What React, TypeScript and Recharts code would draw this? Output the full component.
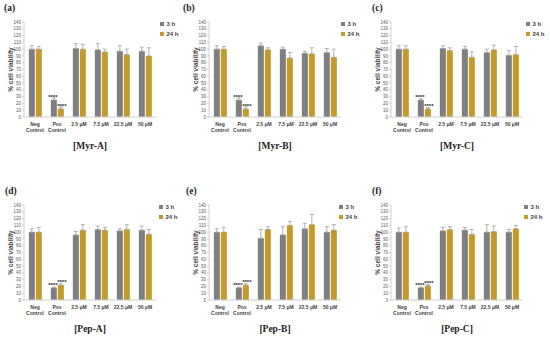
import React from "react";
import { BarChart, Bar, XAxis, YAxis, ErrorBar, LabelList } from "recharts";

const categories = ["Neg Control", "Pos Control", "2.5 μM", "7.5 μM", "22.5 μM", "50 μM"];
const yTicks = [0, 10, 20, 30, 40, 50, 60, 70, 80, 90, 100, 110, 120, 130, 140];

// [Myr-A]
const myrA3h = [100, 25, 101, 99, 97, 97];
const myrA3hErr = [5, 3, 7, 9, 8, 6];
const myrA24h = [100, 12, 100, 96, 92, 90];
const myrA24hErr = [4, 3, 7, 4, 8, 12];
// [Myr-B]
const myrB3h = [100, 25, 105, 100, 94, 95];
const myrB3hErr = [5, 3, 4, 3, 3, 6];
const myrB24h = [100, 12, 99, 87, 93, 88];
const myrB24hErr = [4, 3, 3, 8, 9, 12];
// [Myr-C]
const myrC3h = [100, 25, 101, 100, 95, 91];
const myrC3hErr = [5, 2, 4, 4, 5, 7];
const myrC24h = [100, 12, 98, 88, 99, 92];
const myrC24hErr = [5, 2, 4, 8, 7, 12];
// [Pep-A]
const pepA3h = [100, 18, 96, 104, 102, 103];
const pepA3hErr = [5, 1, 5, 5, 3, 6];
const pepA24h = [100, 22, 103, 103, 104, 97];
const pepA24hErr = [7, 2, 8, 4, 7, 7];
// [Pep-B]
const pepB3h = [100, 18, 91, 96, 105, 100];
const pepB3hErr = [5, 1, 13, 12, 8, 8];
const pepB24h = [100, 22, 104, 110, 111, 103];
const pepB24hErr = [7, 2, 4, 6, 15, 8];
// [Pep-C]
const pepC3h = [100, 18, 102, 103, 100, 100];
const pepC3hErr = [6, 1, 5, 4, 11, 4];
const pepC24h = [100, 21, 104, 97, 101, 105];
const pepC24hErr = [8, 2, 4, 7, 8, 5];

const GRAY = "#7f7f7f";
const GOLD = "#c49a2b";
const SANS = "'Liberation Sans', Arial, sans-serif";
const SERIF = "'Liberation Serif', 'Times New Roman', serif";

const panels = [
  { tag: "(a)", title: "[Myr-A]", v3: myrA3h, e3: myrA3hErr, v24: myrA24h, e24: myrA24hErr, left: 24, top: 22, legX: 160, tagX: 4 },
  { tag: "(b)", title: "[Myr-B]", v3: myrB3h, e3: myrB3hErr, v24: myrB24h, e24: myrB24hErr, left: 209, top: 22, legX: 341, tagX: 183 },
  { tag: "(c)", title: "[Myr-C]", v3: myrC3h, e3: myrC3hErr, v24: myrC24h, e24: myrC24hErr, left: 391, top: 22, legX: 526, tagX: 372 },
  { tag: "(d)", title: "[Pep-A]", v3: pepA3h, e3: pepA3hErr, v24: pepA24h, e24: pepA24hErr, left: 24, top: 205, legX: 159, tagX: 5 },
  { tag: "(e)", title: "[Pep-B]", v3: pepB3h, e3: pepB3hErr, v24: pepB24h, e24: pepB24hErr, left: 209, top: 205, legX: 339, tagX: 186 },
  { tag: "(f)", title: "[Pep-C]", v3: pepC3h, e3: pepC3hErr, v24: pepC24h, e24: pepC24hErr, left: 391, top: 205, legX: 524, tagX: 372 },
];

const PLOT_W = 132;
const PLOT_H = 95;
const Y_W = 26;

const CatTick = (props: any) => {
  const { x, y, payload } = props;
  const label: string = payload.value;
  const lines = label.includes("Control") ? [label.split(" ")[0], "Control"] : [label];
  return (
    <text x={x} y={y} textAnchor="middle" fontSize={5} fontWeight="bold" fill="#404040" fontFamily={SANS}>
      {lines.map((l, i) => (
        <tspan key={i} x={x} dy={i === 0 ? 9 : 6.3}>{l}</tspan>
      ))}
    </text>
  );
};

const stars = (dx: number) => (props: any) => {
  const { x, y, width, index } = props;
  if (index !== 1) return null;
  return (
    <text x={x + width / 2 + dx} y={y - 1} textAnchor="middle" fontSize={6} fontWeight="bold" fill="#262626" fontFamily={SANS}>
      ****
    </text>
  );
};

const Panel = ({ p }: { p: (typeof panels)[number] }) => {
  const rows = categories.map((c, i) => ({
    cat: c,
    h3: p.v3[i],
    h24: p.v24[i],
    e3: [0, p.e3[i]],
    e24: [0, p.e24[i]],
  }));
  return (
    <>
      <div style={{ position: "absolute", left: p.left - Y_W, top: p.top - 6 }}>
        <BarChart
          width={Y_W + PLOT_W + 4}
          height={6 + PLOT_H + 22}
          data={rows}
          margin={{ top: 6, right: 4, bottom: 0, left: 0 }}
          barGap={1}
          barCategoryGap="22%"
        >
          <XAxis
            dataKey="cat"
            interval={0}
            height={22}
            tickSize={0}
            tickMargin={0}
            tickLine={false}
            axisLine={{ stroke: "#d0d0d0" }}
            tick={<CatTick />}
          />
          <YAxis
            domain={[0, 140]}
            ticks={yTicks}
            interval={0}
            width={Y_W}
            tickSize={2}
            tickMargin={1}
            axisLine={{ stroke: "#d0d0d0" }}
            tickLine={{ stroke: "#d0d0d0" }}
            tick={{ fontSize: 4.5, fill: "#595959", fontFamily: SANS }}
            label={{
              value: "% cell viability",
              angle: -90,
              position: "center",
              fontSize: 6.5,
              fontWeight: "bold",
              fill: "#404040",
              fontFamily: SANS,
            }}
          />
          <Bar dataKey="h3" fill={GRAY} isAnimationActive={false}>
            <ErrorBar dataKey="e3" width={2} stroke="#a0a0a0" strokeWidth={0.8} direction="y" />
            <LabelList dataKey="h3" content={stars(-1)} />
          </Bar>
          <Bar dataKey="h24" fill={GOLD} isAnimationActive={false}>
            <ErrorBar dataKey="e24" width={2} stroke="#a0a0a0" strokeWidth={0.8} direction="y" />
            <LabelList dataKey="h24" content={stars(1)} />
          </Bar>
        </BarChart>
      </div>
      {/* legend */}
      {[
        { name: "3 h", color: GRAY, dy: 2 },
        { name: "24 h", color: GOLD, dy: 12 },
      ].map((l) => (
        <div
          key={l.name}
          style={{
            position: "absolute",
            left: p.legX,
            top: p.top + l.dy - 4,
            height: 8,
            display: "flex",
            alignItems: "center",
            gap: 2.5,
            fontFamily: SANS,
            fontSize: 6,
            fontWeight: "bold",
            color: "#404040",
            lineHeight: 1,
            whiteSpace: "nowrap",
          }}
        >
          <span style={{ width: 4, height: 4, background: l.color, display: "inline-block" }} />
          <span>{l.name}</span>
        </div>
      ))}
      {/* panel tag */}
      <div
        style={{
          position: "absolute",
          left: p.tagX,
          top: p.top - 14 - 6,
          fontFamily: SERIF,
          fontSize: 9.5,
          fontWeight: "bold",
          color: "#222",
          lineHeight: "12px",
        }}
      >
        {p.tag}
      </div>
      {/* title */}
      <div
        style={{
          position: "absolute",
          left: p.left + 66,
          top: p.top + PLOT_H + 30,
          transform: "translate(-50%, -50%)",
          fontFamily: SERIF,
          fontSize: 9.5,
          fontWeight: "bold",
          color: "#222",
          lineHeight: 1,
          whiteSpace: "nowrap",
        }}
      >
        {p.title}
      </div>
    </>
  );
};

export default function App() {
  return (
    <div style={{ position: "absolute", left: 0, top: 0, width: 550, height: 339, background: "#fff", overflow: "hidden" }}>
      {panels.map((p) => (
        <Panel key={p.tag} p={p} />
      ))}
    </div>
  );
}
